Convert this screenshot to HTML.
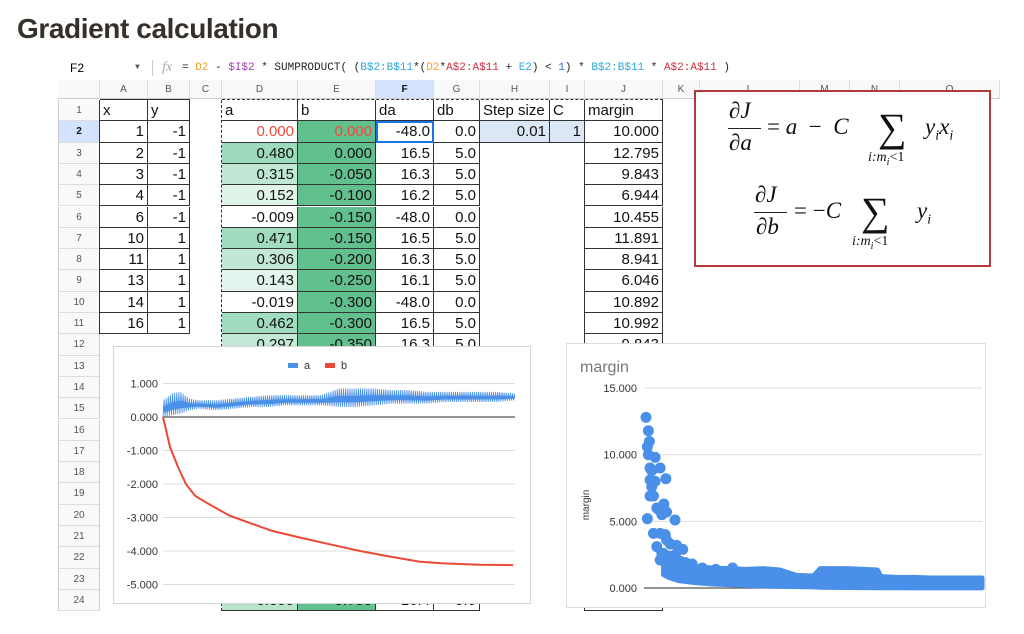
<!DOCTYPE html>
<html><head><meta charset="utf-8">
<style>
body{margin:0;width:1024px;height:634px;overflow:hidden;background:#fff;font-family:"Liberation Sans",sans-serif;position:relative}
.abs{position:absolute}
.cell{position:absolute;box-sizing:border-box;font-size:15px;line-height:21px;padding:0 3px;white-space:nowrap;overflow:hidden;color:#111}
.hdr{position:absolute;box-sizing:border-box;font-size:10px;color:#555;text-align:center;background:#f8f9fa;border-right:1px solid #ddd;border-bottom:1px solid #ccc}
.rh{position:absolute;box-sizing:border-box;font-size:10px;color:#555;text-align:center;background:#f8f9fa;border-bottom:1px solid #ddd;border-right:1px solid #ccc}
.eq{position:absolute;font-family:"Liberation Serif","DejaVu Serif",serif;font-style:italic;font-size:23px;color:#111;white-space:nowrap}
.up{font-style:normal}
</style></head><body>
<div class="abs" style="left:17px;top:13px;font-size:28px;font-weight:bold;color:#36302b;letter-spacing:-0.4px">Gradient calculation</div>

<div class="abs" style="left:58px;top:57px;width:966px;height:22px;font-size:11px;line-height:22px;font-family:'Liberation Mono',monospace">
 <span class="abs" style="left:12px;font-family:'Liberation Sans';font-size:12px">F2</span>
 <span class="abs" style="left:77px;font-size:8px;color:#555">▼</span>
 <span class="abs" style="left:94px;top:3px;height:16px;border-left:1px solid #ccc"></span>
 <span class="abs" style="left:104px;color:#aaa;font-style:italic;font-family:'Liberation Serif';font-size:14px">fx</span>
 <span class="abs" style="left:124px;color:#222">= <span style="color:#f0a030">D2</span> - <span style="color:#a040b0">$I$2</span> * SUMPRODUCT( (<span style="color:#2aa8d8">B$2:B$11</span>*(<span style="color:#f0a030">D2</span>*<span style="color:#d03040">A$2:A$11</span> + <span style="color:#2aa8d8">E2</span>) &lt; <span style="color:#2a70d8">1</span>) * <span style="color:#2aa8d8">B$2:B$11</span> * <span style="color:#d03040">A$2:A$11</span> )</span>
</div>

<div id="sheet"></div>

<div class="abs" style="left:694px;top:90px;width:297px;height:177px;border:2px solid #b23a3a;box-sizing:border-box;background:#fff"></div>
<div>
 <div class="eq" style="left:729px;top:98px">∂J</div>
 <div class="abs" style="left:728px;top:128px;width:33px;border-top:1.5px solid #222"></div>
 <div class="eq" style="left:729px;top:130px">∂a</div>
 <div class="eq" style="left:767px;top:114px"><span class="up">=</span> a <span class="up">&nbsp;−&nbsp;</span> C</div>
 <div class="eq up" style="left:878px;top:104px;font-size:40px;font-style:normal">∑</div>
 <div class="eq" style="left:868px;top:150px;font-size:14px">i:m<sub style="font-size:10px">i</sub><span class="up">&lt;1</span></div>
 <div class="eq" style="left:925px;top:114px">y<sub style="font-size:14px">i</sub>x<sub style="font-size:14px">i</sub></div>
</div>
<div>
 <div class="eq" style="left:755px;top:182px">∂J</div>
 <div class="abs" style="left:754px;top:212px;width:33px;border-top:1.5px solid #222"></div>
 <div class="eq" style="left:756px;top:214px">∂b</div>
 <div class="eq" style="left:794px;top:198px"><span class="up">= −</span>C</div>
 <div class="eq up" style="left:861px;top:188px;font-size:40px;font-style:normal">∑</div>
 <div class="eq" style="left:852px;top:234px;font-size:14px">i:m<sub style="font-size:10px">i</sub><span class="up">&lt;1</span></div>
 <div class="eq" style="left:917px;top:198px">y<sub style="font-size:14px">i</sub></div>
</div>

<svg id="chartA" class="abs" style="left:113px;top:346px" width="418" height="258"></svg>
<svg id="chartM" class="abs" style="left:566px;top:343px" width="420" height="265"></svg>

<script>
// ---------- spreadsheet ----------
const colNames=['A','B','C','D','E','F','G','H','I','J','K','L','M','N','O'];
const colX=[100,148,190,222,298,376,434,480,550,585,663,700,800,850,900,1000];
const rowTop=n=>100+(n-1)*21.3;
const sheet=document.getElementById('sheet');
function mk(cls,x,y,w,h,txt,name){const d=document.createElement('div');d.className=cls;d.style.left=x+'px';d.style.top=y+'px';d.style.width=w+'px';d.style.height=h+'px';if(txt!==undefined)d.textContent=txt;


sheet.appendChild(d);return d;}
mk('hdr',58,80,42,19,'','corner-header');
colNames.forEach((c,i)=>{const d=mk('hdr',colX[i],80,colX[i+1]-colX[i],19,c,'column-header-'+c.toLowerCase());d.style.lineHeight='19px';if(c==='F'){d.style.background='#d3e3fd';d.style.color='#111';d.style.fontWeight='bold';}});
for(let r=1;r<=24;r++){const d=mk('rh',58,rowTop(r),42,21.3,String(r),'row-header-'+r);d.style.lineHeight='21px';d.style.borderLeft='1px solid #ccc';if(r===2){d.style.background='#d3e3fd';d.style.fontWeight='bold';d.style.color='#111';}}
const xs=[1,2,3,4,6,10,11,13,14,16];
const ys=[-1,-1,-1,-1,-1,1,1,1,1,1];
const aVals=['0.000','0.480','0.315','0.152','-0.009','0.471','0.306','0.143','-0.019','0.462','0.297'];
const bVals=['0.000','0.000','-0.050','-0.100','-0.150','-0.150','-0.200','-0.250','-0.300','-0.300','-0.350'];
const daVals=['-48.0','16.5','16.3','16.2','-48.0','16.5','16.3','16.1','-48.0','16.5','16.3'];
const dbVals=['0.0','5.0','5.0','5.0','0.0','5.0','5.0','5.0','0.0','5.0','5.0'];
const marginVals=['10.000','12.795','9.843','6.944','10.455','11.891','8.941','6.046','10.892','10.992','9.843'];
const B='1.5px solid #333';
function cell(ci,r,txt,align,name,bg){const x=colX[ci],w=colX[ci+1]-colX[ci];const d=mk('cell',x,rowTop(r),w,21.3,txt,name);d.style.textAlign=align||'right';d.style.borderRight=B;d.style.borderBottom=B;if(bg)d.style.background=bg;return d;}
function aColor(v){v=parseFloat(v);if(v<=0)return '#fff';const t=Math.min(v/0.48,1);const c0=[255,255,255],c1=[158,219,188];return 'rgb('+c0.map((c,i)=>Math.round(c+(c1[i]-c)*t)).join(',')+')';}
['x','y'].forEach((h,i)=>cell(i,1,h,'left','header-'+h));
['a','b','da','db','Step size','C','margin'].forEach((h,i)=>cell([3,4,5,6,7,8,9][i],1,h,'left','header-'+h.replace(' ','-').toLowerCase()));
for(let i=0;i<10;i++){cell(0,i+2,String(xs[i]),'right','x-value');cell(1,i+2,String(ys[i]),'right','y-value');}
for(let i=0;i<11;i++){const r=i+2;
 const d=cell(3,r,aVals[i],'right','a-value',aColor(aVals[i]));
 const e=cell(4,r,bVals[i],'right','b-value','#62bf8e');
 const f=cell(5,r,daVals[i],'right','da-value');
 cell(6,r,dbVals[i],'right','db-value');
 cell(9,r,marginVals[i],'right','margin-value');
 if(i===0){d.style.color='#f04a3a';e.style.color='#f04a3a';f.style.outline='2px solid #1a73e8';f.style.outlineOffset='-2px';}
}
cell(7,2,'0.01','right','step-size-value','#dbe7f5');cell(8,2,'1','right','c-value','#dbe7f5');
for(let r=13;r<=24;r++){cell(3,r,'0.300','right','a-value',r==24?'#b8e4cc':'#c3e9d5');cell(4,r,'-0.700','right','b-value','#62bf8e');cell(5,r,'16.4','right','da-value');cell(6,r,'5.0','right','db-value');cell(9,r,'0.500','right','margin-value');}
const lb=[[0,1,11],[3,1,24],[7,1,2],[9,1,24]];
lb.forEach(([c,r1,r2])=>{const d=document.createElement('div');d.className='abs';d.style.cssText=`left:${colX[c]-1}px;top:${rowTop(r1)}px;height:${rowTop(r2+1)-rowTop(r1)}px;border-left:${c===3?'1.5px dashed #333':B}`;


sheet.appendChild(d);});
const tb=document.createElement('div');tb.className='abs';tb.style.cssText=`left:222px;top:99px;width:441px;border-top:1.5px dashed #333`;


sheet.appendChild(tb);
const tb2=document.createElement('div');tb2.className='abs';tb2.style.cssText=`left:100px;top:99px;width:90px;border-top:1.5px solid #333`;


sheet.appendChild(tb2);

// ---------- chart A: a and b ----------
const NS='http://www.w3.org/2000/svg';
function el(svg,tag,attrs,txt){const e=document.createElementNS(NS,tag);for(const k in attrs)e.setAttribute(k,attrs[k]);if(txt!==undefined)e.textContent=txt;svg.appendChild(e);return e;}
const aTicks=[1,0,-1,-2,-3,-4,-5];
const aTickLabels=['1.000','0.000','-1.000','-2.000','-3.000','-4.000','-5.000'];
const aIters=[0,25,50,75,100,150,200,250,300,350,400,450,500,550,600,650,700,750,800,850,900,950,1000];
const aHigh=[0.5,0.7,0.75,0.55,0.5,0.5,0.55,0.6,0.65,0.65,0.65,0.65,0.85,0.85,0.85,0.8,0.8,0.75,0.75,0.75,0.75,0.75,0.7];
const aLow=[0.0,0.05,0.1,0.2,0.25,0.2,0.25,0.3,0.3,0.35,0.35,0.35,0.3,0.3,0.35,0.4,0.4,0.4,0.45,0.45,0.45,0.45,0.5];
const bIters=[0,20,43,65,91,122,190,310,390,474,560,636,730,798,900,995];
const bValues=[0,-0.9,-1.5,-2.0,-2.35,-2.55,-2.95,-3.4,-3.6,-3.8,-4.0,-4.15,-4.32,-4.37,-4.41,-4.42];
(function(){
 const svg=document.getElementById('chartA');
 el(svg,'rect',{x:0.5,y:0.5,width:417,height:257,fill:'#fff',stroke:'#d6d6d6'});
 const X=i=>50+i/1000*352, Y=v=>71-v*33.5;
 aTicks.forEach((t,k)=>{const g=el(svg,'line',{x1:50,x2:402,y1:Y(t),y2:Y(t),stroke:t===0?'#555':'#ddd','stroke-width':t===0?1.3:1});
 
 const l=el(svg,'text',{x:45,y:Y(t)+4,'text-anchor':'end','font-size':11,fill:'#333'},aTickLabels[k]);
 });
 const interp=(arr,i)=>{for(let k=0;k<aIters.length-1;k++){if(i<=aIters[k+1]){const t=(i-aIters[k])/(aIters[k+1]-aIters[k]);return arr[k]+(arr[k+1]-arr[k])*t;}}return arr[arr.length-1];};
 let poly=aIters.map((it,k)=>X(it)+','+Y(aHigh[k]*0.6+aLow[k]*0.4)).concat(aIters.slice().reverse().map((it,k)=>X(it)+','+Y(aLow[aIters.length-1-k]*0.75+aHigh[aIters.length-1-k]*0.25)));
 const pa=el(svg,'polygon',{points:poly.join(' '),fill:'#4a90e8'});
 
 let pts=[];for(let i=0;i<=1000;i+=3){pts.push(X(i)+','+Y(((i/3)%2)?interp(aHigh,i):interp(aLow,i)));}
 const za=el(svg,'polyline',{points:pts.join(' '),fill:'none',stroke:'#4a90e8','stroke-width':0.8});
 
 const bl=el(svg,'polyline',{points:bIters.map((it,k)=>X(it)+','+Y(bValues[k])).join(' '),fill:'none',stroke:'#ea4a35','stroke-width':2});
 
 const la=el(svg,'rect',{x:175,y:17,width:10,height:5,fill:'#4a90e8'});
 const lt=el(svg,'text',{x:191,y:23,'font-size':11,fill:'#333'},'a');
 const lb=el(svg,'rect',{x:212,y:17,width:10,height:5,fill:'#ea4a35'});
 const lt2=el(svg,'text',{x:228,y:23,'font-size':11,fill:'#333'},'b');
})();

// ---------- chart M: margin scatter ----------
const mTicks=[15,10,5,0];
const mTickLabels=['15.000','10.000','5.000','0.000'];
const ptIters=[3,10,13,7,30,15,45,62,20,15,25,15,56,64,40,7,89,25,45,64,35,94,112,54,45,50,70,80,100,120,140,10,20,30,35,50,60,75,90,105,130,170,210,260];
const ptMargins=[12.8,11.8,11,10.6,9.8,9.0,9.0,8.2,7.6,8.1,6.9,6.9,6.3,5.7,5.9,5.2,5.1,4.1,4.1,3.6,3.1,3.2,2.9,2.6,2.1,2.6,2.4,2.2,2.0,1.9,1.8,10.0,8.8,8.0,6.0,5.5,4.0,3.3,2.5,2.0,1.7,1.5,1.4,1.5];
const bandIters=[55,70,100,150,200,250,300,350,400,450,500,520,550,600,650,690,700,750,800,850,900,950,1000];
const bandHigh=[2.3,2.1,1.8,1.6,1.5,1.45,1.4,1.45,1.35,0.95,0.9,1.45,1.45,1.45,1.4,1.35,0.85,0.8,0.8,0.75,0.75,0.75,0.75];
const bandLow=[1.0,0.8,0.55,0.4,0.3,0.25,0.2,0.15,0.12,0.1,0.08,0.06,0.05,0.04,0.03,0.02,0.02,0.02,0.01,0.01,0.01,0.01,0.01];
(function(){
 const svg=document.getElementById('chartM');
 el(svg,'rect',{x:0.5,y:0.5,width:419,height:264,fill:'#fff',stroke:'#dcdcdc'});
 const X=i=>79+i/1000*337, Y=v=>245-v*13.33;
 const t=el(svg,'text',{x:14,y:29,'font-size':16,fill:'#777'},'margin');
 mTicks.forEach((v,k)=>{const g=el(svg,'line',{x1:78,x2:416,y1:Y(v),y2:Y(v),stroke:v===0?'#555':'#ddd','stroke-width':v===0?1.3:1});
 
 const l=el(svg,'text',{x:71,y:Y(v)+4,'text-anchor':'end','font-size':11,fill:'#333'},mTickLabels[k]);
 });
 const at=el(svg,'text',{x:0,y:0,'font-size':10,fill:'#333','text-anchor':'middle',transform:'translate(23,162) rotate(-90)'},'margin');
 
 const poly=bandIters.map((it,k)=>X(it)+','+Y(bandHigh[k])).concat(bandIters.slice().reverse().map((it,k)=>X(it)+','+Y(bandLow[bandIters.length-1-k])));
 const p=el(svg,'polygon',{points:poly.join(' '),fill:'#4a90e8',stroke:'#4a90e8','stroke-width':5,'stroke-linejoin':'round'});
 
 ptIters.forEach((it,k)=>{const c=el(svg,'circle',{cx:X(it),cy:Y(ptMargins[k]),r:5.5,fill:'#4a90e8'});
 });
})();
</script>
</body></html>
